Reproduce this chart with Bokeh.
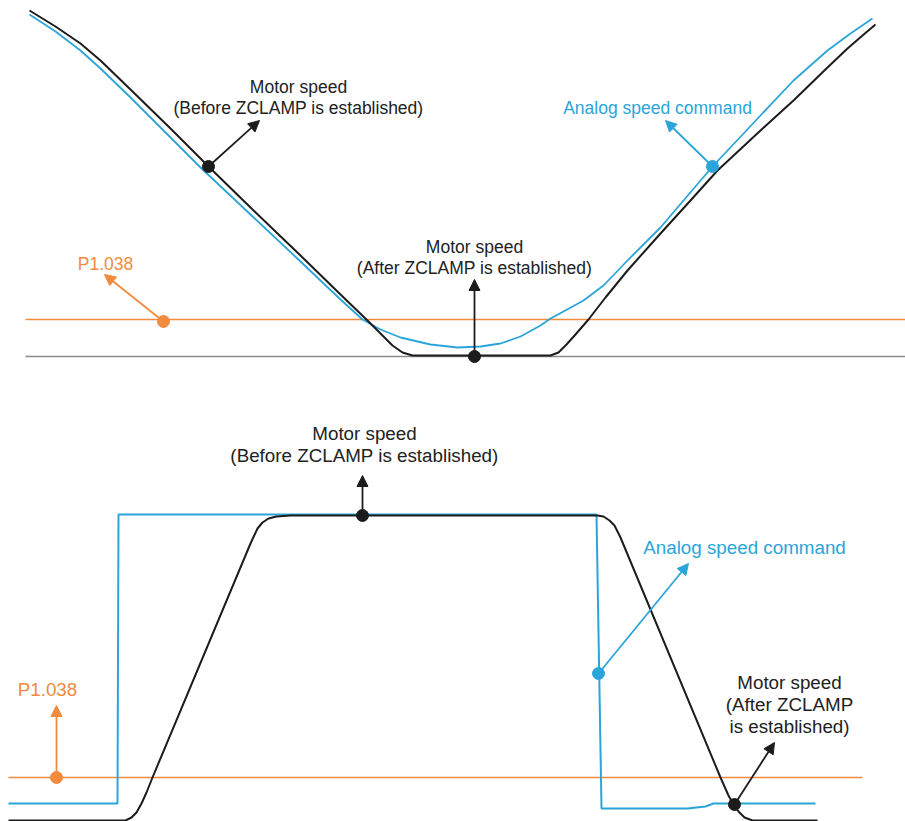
from bokeh.plotting import figure
from bokeh.models import Range1d, Arrow, NormalHead
from bokeh.core.properties import value
from bokeh.embed import file_html
from bokeh.resources import INLINE

# ---------------- data (diagram units: x = time, y = level measured downward) -------------
# Upper diagram: analog command ramps through zero
top_t_motor = [29, 55, 80, 100, 130, 170, 208, 250, 300, 340, 367, 380, 392, 402, 412, 450,
               550, 558, 566, 575, 588, 605, 627, 660, 690, 717, 760, 793, 827, 847, 862, 875]
top_v_motor = [10, 26, 43, 60, 89, 128, 166, 207, 255, 294, 320, 333, 345, 352, 355, 355,
               355, 352, 344, 334, 319, 297, 270, 233, 200, 170, 130, 100, 67, 48, 35, 24]
top_t_cmd = [29, 55, 80, 100, 130, 165, 200, 250, 300, 340, 362, 380, 400, 430, 457, 480,
             500, 520, 540, 550, 563, 583, 603, 627, 660, 712, 760, 793, 827, 850, 872]
top_v_cmd = [14, 31, 50, 68, 97, 132, 167, 214, 261, 299, 319, 329, 337, 344, 347, 346,
             343, 336, 325, 318, 311, 300, 285, 260, 227, 166, 115, 80, 50, 33, 18]
top_threshold = 319
top_zero = 356
top_span = [25, 905]

# Lower diagram: analog command steps
bot_t_motor = [8, 125, 131, 136, 141, 146, 152, 250, 257, 262, 268, 276, 290,
               597, 603, 609, 614, 620, 720, 728, 733, 738, 744, 752, 817]
bot_v_motor = [820, 820, 817, 812, 803, 792, 777, 543, 528, 522, 518, 516, 515,
               515, 516, 520, 525, 537, 777, 795, 804, 811, 817, 820, 820]
bot_t_cmd = [8, 117, 118, 596, 601, 687, 705, 713, 815]
bot_v_cmd = [803, 803, 514, 514, 808, 808, 806, 803, 803]
bot_threshold = 777
bot_span = [8, 862]

# ---------------- styles ----------------
BLUE = "#2ba5d9"
ORANGE = "#f18b3d"
BLACK = "#1c1c1c"
GRAY = "#8a8a8a"
FONT = value("Liberation Sans")

p = figure(width=905, height=821, x_range=Range1d(0, 905), y_range=Range1d(821, 0),
           output_backend="svg", toolbar_location=None,
           x_axis_location=None, y_axis_location=None, min_border=0)
p.grid.visible = False
p.outline_line_color = None
p.background_fill_color = "white"

# ---- upper diagram ----
p.line(top_span, [top_zero, top_zero], line_color=GRAY, line_width=1.5)
p.line(top_span, [top_threshold, top_threshold], line_color=ORANGE, line_width=1.5)
p.line(top_t_cmd, top_v_cmd, line_color=BLUE, line_width=1.8, line_join="round")
p.line(top_t_motor, top_v_motor, line_color=BLACK, line_width=2, line_join="round")

# ---- lower diagram ----
p.line(bot_span, [bot_threshold, bot_threshold], line_color=ORANGE, line_width=1.5)
p.line(bot_t_cmd, bot_v_cmd, line_color=BLUE, line_width=2)
p.line(bot_t_motor, bot_v_motor, line_color=BLACK, line_width=2, line_join="round")

# ---- callout arrows ----
arrows = [
    (208, 166, 259, 120, BLACK),
    (712, 166, 665, 120, BLUE),
    (163, 321, 104, 274, ORANGE),
    (474, 356, 474, 279, BLACK),
    (362, 515, 362, 475, BLACK),
    (598, 673, 688, 563, BLUE),
    (56, 777, 56, 705, ORANGE),
    (734, 804, 774, 742, BLACK),
]
for xs, ys, xe, ye, c in arrows:
    p.add_layout(Arrow(end=NormalHead(size=11, fill_color=c, line_color=c),
                       x_start=xs, y_start=ys, x_end=xe, y_end=ye,
                       line_color=c, line_width=1.8))

# ---- callout dots ----
p.scatter([208, 474, 362, 734], [166, 356, 515, 804], size=12, color=BLACK)
p.scatter([712, 598], [166, 673], size=12, color=BLUE)
p.scatter([163, 56], [321, 777], size=12, color=ORANGE)

# ---- labels ----
top_labels = [
    (298, 86, "Motor speed", "#222222"),
    (298, 107, "(Before ZCLAMP is established)", "#222222"),
    (474, 246, "Motor speed", "#222222"),
    (474, 267, "(After ZCLAMP is established)", "#222222"),
    (657, 107, "Analog speed command", BLUE),
    (105, 263, "P1.038", ORANGE),
]
bot_labels = [
    (364, 433, "Motor speed", "#222222"),
    (364, 455, "(Before ZCLAMP is established)", "#222222"),
    (744, 547, "Analog speed command", BLUE),
    (47, 689, "P1.038", ORANGE),
    (789, 682, "Motor speed", "#222222"),
    (789, 704, "(After ZCLAMP", "#222222"),
    (789, 726, "is established)", "#222222"),
]
for labels, fs in ((top_labels, "17.5px"), (bot_labels, "18.8px")):
    p.text(x=[l[0] for l in labels], y=[l[1] for l in labels], text=[l[2] for l in labels],
           text_color=[l[3] for l in labels], text_font=FONT, text_font_size=fs,
           text_align="center", text_baseline="middle")

open("out.html", "w").write(file_html(p, INLINE))
